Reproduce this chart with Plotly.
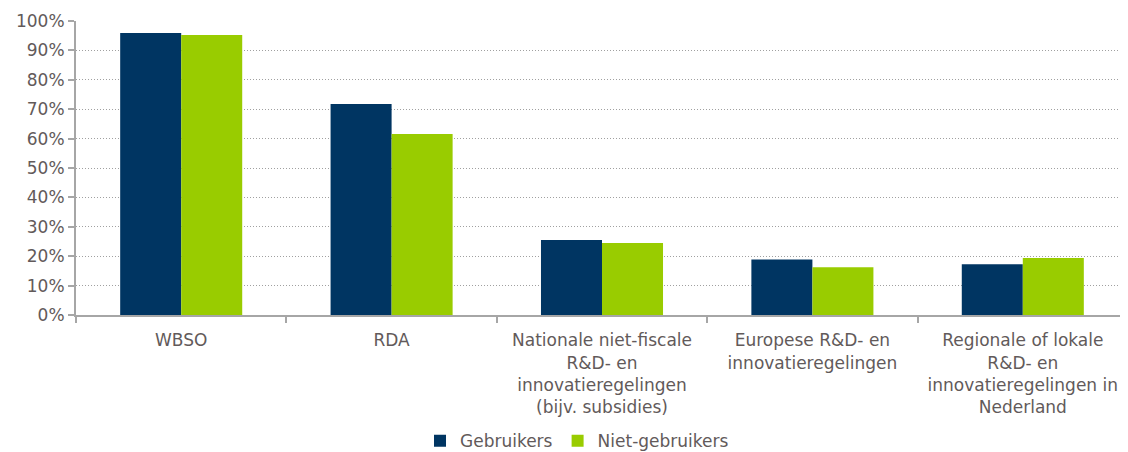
import plotly.graph_objects as go

categories = [
    "WBSO",
    "RDA",
    "Nationale niet-fiscale<br>R&D- en<br>innovatieregelingen<br>(bijv. subsidies)",
    "Europese R&D- en<br>innovatieregelingen",
    "Regionale of lokale<br>R&D- en<br>innovatieregelingen in<br>Nederland",
]
gebruikers = [0.959, 0.718, 0.255, 0.189, 0.173]
niet_gebruikers = [0.952, 0.616, 0.245, 0.162, 0.194]
y_ticks = [0, 0.1, 0.2, 0.3, 0.4, 0.5, 0.6, 0.7, 0.8, 0.9, 1.0]
y_labels = [f"{int(round(v*100))}%" for v in y_ticks]

font_color = "#625a5a"
axis_color = "#a6a6a6"

fig = go.Figure()
fig.add_bar(x=categories, y=gebruikers, name="Gebruikers", marker_color="#003562",
            marker_line_width=0)
fig.add_bar(x=categories, y=niet_gebruikers, name="Niet-gebruikers", marker_color="#99cc00",
            marker_line_width=0)

fig.update_layout(
    width=1120, height=444,
    margin=dict(l=68, r=0, t=13, b=137, autoexpand=False),
    paper_bgcolor="white", plot_bgcolor="white",
    barmode="group", bargap=0.42, bargroupgap=0,
    font=dict(family="DejaVu Sans, Verdana, sans-serif", size=17, color=font_color),
    legend=dict(orientation="h", x=0.327, xanchor="left", y=-0.368, yanchor="top",
                font=dict(size=17, color=font_color), itemwidth=30,
                tracegroupgap=0, itemsizing="constant"),
    showlegend=True,
)
fig.update_xaxes(
    showline=True, linecolor=axis_color, linewidth=2, automargin=False,
    ticks="outside", tickson="boundaries", ticklen=6, tickcolor=axis_color, tickwidth=2,
    ticklabelstandoff=9,
    showgrid=False, tickfont=dict(size=17, color=font_color),
)
fig.update_yaxes(
    range=[0, 1.0], tickvals=y_ticks, ticktext=y_labels, automargin=False,
    showline=True, linecolor=axis_color, linewidth=2,
    ticks="outside", ticklen=6, tickcolor=axis_color, tickwidth=2,
    showgrid=True, gridcolor="#a0a0a0", griddash="1px,2px", gridwidth=1,
    zeroline=False, tickfont=dict(size=17, color=font_color),
)

fig.write_html("out.html")
